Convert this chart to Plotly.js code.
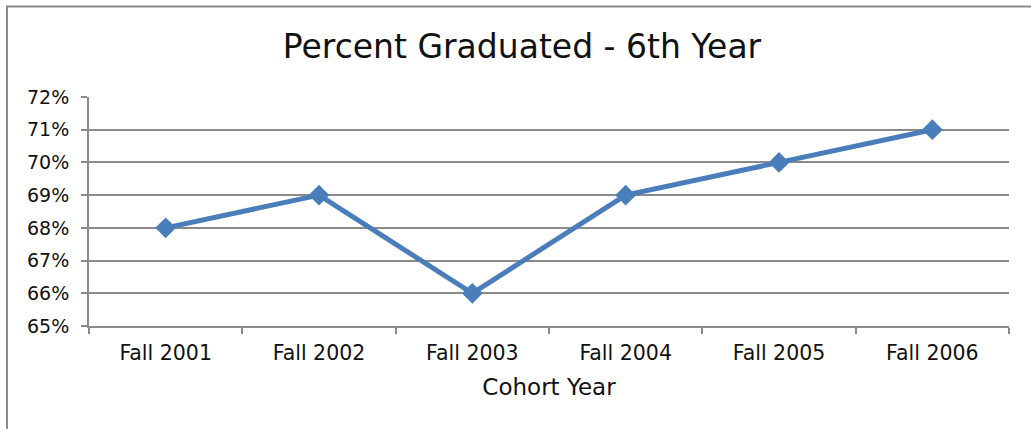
<!DOCTYPE html>
<html>
<head>
<meta charset="utf-8">
<script src="https://cdn.plot.ly/plotly-3.0.1.min.js"></script>
<style>
  html, body { margin: 0; padding: 0; background: #fff; }
  #chart { width: 1031px; height: 429px; }
</style>
</head>
<body>
<div id="chart"></div>
<script>
const cohorts = ["Fall 2001", "Fall 2002", "Fall 2003", "Fall 2004", "Fall 2005", "Fall 2006"];
const percentGraduated = [68, 69, 66, 69, 70, 71];
const yTickValues = [65, 66, 67, 68, 69, 70, 71, 72];
const chartTitle = "Percent Graduated - 6th Year";
const xAxisTitle = "Cohort Year";

const FONT = "DejaVu Sans, Open Sans, sans-serif";
const GRAY = "#8a8a8a";
const TEXT = "#111111";

const trace = {
  x: cohorts,
  y: percentGraduated,
  type: "scatter",
  mode: "lines+markers",
  line: { color: "#4a7ebb", width: 5 },
  marker: { symbol: "diamond", size: 16, color: "#4a7ebb" },
  hoverinfo: "x+y"
};

const layout = {
  width: 1031,
  height: 429,
  margin: { l: 89, r: 22, t: 97, b: 103, pad: 0 },
  paper_bgcolor: "#ffffff",
  plot_bgcolor: "#ffffff",
  showlegend: false,
  font: { family: FONT, size: 19, color: TEXT },
  title: {
    text: chartTitle,
    font: { family: FONT, size: 33, color: TEXT },
    x: 522 / 1031,
    xref: "container",
    xanchor: "center",
    y: 1 - 46 / 429,
    yref: "container",
    yanchor: "middle"
  },
  xaxis: {
    type: "category",
    range: [-0.5, 5.5],
    showgrid: false,
    showline: true,
    linecolor: GRAY,
    linewidth: 2,
    ticks: "outside",
    tickson: "boundaries",
    ticklen: 6,
    tickcolor: GRAY,
    tickwidth: 2,
    ticklabelstandoff: 7,
    tickfont: { family: FONT, size: 20.5, color: TEXT },
    title: {
      text: xAxisTitle,
      font: { family: FONT, size: 23, color: TEXT },
      standoff: 15
    },
    zeroline: false,
    fixedrange: true
  },
  yaxis: {
    range: [65, 72],
    tickvals: yTickValues,
    ticktext: yTickValues.map(v => v + "%"),
    showgrid: true,
    gridcolor: GRAY,
    gridwidth: 2,
    showline: true,
    linecolor: GRAY,
    linewidth: 2,
    ticks: "outside",
    ticklen: 6,
    tickcolor: GRAY,
    tickwidth: 2,
    ticklabelstandoff: 8,
    tickfont: { family: FONT, size: 19, color: TEXT },
    zeroline: false,
    fixedrange: true
  },
  shapes: [{
    type: "rect",
    xref: "paper",
    yref: "paper",
    x0: (7 - 89) / 920,
    x1: (1045 - 89) / 920,
    y0: (326 - 445) / 229,
    y1: (326 - 6.5) / 229,
    line: { color: GRAY, width: 2 },
    fillcolor: "rgba(0,0,0,0)",
    layer: "below"
  }]
};

Plotly.newPlot("chart", [trace], layout, { displayModeBar: false, staticPlot: true });
</script>
</body>
</html>
